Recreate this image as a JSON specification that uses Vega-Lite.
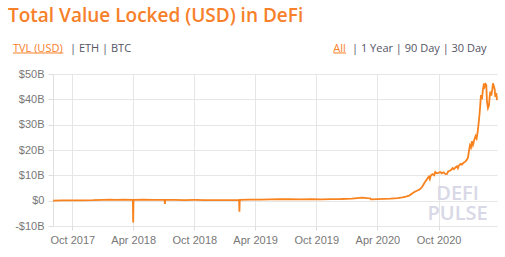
{
  "$schema": "https://vega.github.io/schema/vega-lite/v6.json",
  "width": 444,
  "height": 152,
  "autosize": "none",
  "padding": {"left": 53, "top": 74, "right": 8, "bottom": 31},
  "background": "white",
  "title": {
    "text": "Total Value Locked (USD) in DeFi",
    "anchor": "start",
    "frame": "group",
    "dx": -45,
    "offset": 17,
    "font": "Open Sans",
    "fontSize": 19,
    "fontWeight": 600,
    "color": "#f7802a"
  },
  "config": {
    "view": {"stroke": null},
    "axis": {
      "labelFont": "Liberation Sans",
      "labelFontSize": 11,
      "labelColor": "#777777",
      "gridColor": "#e6e6e6",
      "tickColor": "#dddddd",
      "domainColor": "#e0e0e0",
      "labelOverlap": false,
      "labelSeparation": 0,
      "title": null
    }
  },
  "layer": [
    {
      "data": {
        "values": [
          {"date": "2017-08-04", "tvl": 0.05},
          {"date": "2017-09-01", "tvl": 0.08},
          {"date": "2017-10-01", "tvl": 0.1},
          {"date": "2017-11-01", "tvl": 0.15},
          {"date": "2017-12-01", "tvl": 0.2},
          {"date": "2018-01-01", "tvl": 0.35},
          {"date": "2018-01-20", "tvl": 0.45},
          {"date": "2018-02-10", "tvl": 0.35},
          {"date": "2018-03-01", "tvl": 0.38},
          {"date": "2018-03-31", "tvl": 0.3},
          {"date": "2018-04-01", "tvl": -8.6},
          {"date": "2018-04-02", "tvl": 0.3},
          {"date": "2018-05-01", "tvl": 0.4},
          {"date": "2018-06-01", "tvl": 0.35},
          {"date": "2018-07-04", "tvl": 0.3},
          {"date": "2018-07-05", "tvl": -1.3},
          {"date": "2018-07-06", "tvl": 0.3},
          {"date": "2018-08-01", "tvl": 0.3},
          {"date": "2018-09-01", "tvl": 0.25},
          {"date": "2018-10-01", "tvl": 0.28},
          {"date": "2018-11-01", "tvl": 0.25},
          {"date": "2018-12-01", "tvl": 0.2},
          {"date": "2019-01-01", "tvl": 0.25},
          {"date": "2019-02-12", "tvl": 0.3},
          {"date": "2019-02-13", "tvl": -4.4},
          {"date": "2019-02-14", "tvl": 0.3},
          {"date": "2019-03-15", "tvl": 0.4},
          {"date": "2019-04-15", "tvl": 0.45},
          {"date": "2019-05-15", "tvl": 0.5},
          {"date": "2019-06-15", "tvl": 0.6},
          {"date": "2019-07-15", "tvl": 0.55},
          {"date": "2019-08-15", "tvl": 0.5},
          {"date": "2019-09-15", "tvl": 0.55},
          {"date": "2019-10-15", "tvl": 0.5},
          {"date": "2019-11-15", "tvl": 0.6},
          {"date": "2019-12-15", "tvl": 0.65},
          {"date": "2020-01-15", "tvl": 0.8},
          {"date": "2020-02-01", "tvl": 1.0},
          {"date": "2020-02-15", "tvl": 1.2},
          {"date": "2020-03-01", "tvl": 1.0},
          {"date": "2020-03-11", "tvl": 0.9},
          {"date": "2020-03-13", "tvl": 0.5},
          {"date": "2020-04-01", "tvl": 0.6},
          {"date": "2020-04-20", "tvl": 0.7},
          {"date": "2020-05-10", "tvl": 0.8},
          {"date": "2020-06-01", "tvl": 1.0},
          {"date": "2020-06-15", "tvl": 1.3},
          {"date": "2020-06-25", "tvl": 1.6},
          {"date": "2020-07-05", "tvl": 2.0},
          {"date": "2020-07-15", "tvl": 2.9},
          {"date": "2020-07-22", "tvl": 3.5},
          {"date": "2020-07-30", "tvl": 4.0},
          {"date": "2020-08-07", "tvl": 4.6},
          {"date": "2020-08-13", "tvl": 5.5},
          {"date": "2020-08-18", "tvl": 6.6},
          {"date": "2020-08-22", "tvl": 7.5},
          {"date": "2020-08-26", "tvl": 8.2},
          {"date": "2020-08-30", "tvl": 9.0},
          {"date": "2020-09-02", "tvl": 9.5},
          {"date": "2020-09-05", "tvl": 8.5},
          {"date": "2020-09-08", "tvl": 9.9},
          {"date": "2020-09-13", "tvl": 10.5},
          {"date": "2020-09-18", "tvl": 10.0},
          {"date": "2020-09-21", "tvl": 11.3},
          {"date": "2020-09-26", "tvl": 10.8},
          {"date": "2020-10-01", "tvl": 11.0},
          {"date": "2020-10-06", "tvl": 11.3},
          {"date": "2020-10-11", "tvl": 10.8},
          {"date": "2020-10-16", "tvl": 11.2},
          {"date": "2020-10-21", "tvl": 10.6},
          {"date": "2020-10-26", "tvl": 10.5},
          {"date": "2020-10-30", "tvl": 11.6},
          {"date": "2020-11-04", "tvl": 11.8},
          {"date": "2020-11-08", "tvl": 12.2},
          {"date": "2020-11-12", "tvl": 12.9},
          {"date": "2020-11-16", "tvl": 12.4},
          {"date": "2020-11-20", "tvl": 13.0},
          {"date": "2020-11-25", "tvl": 13.6},
          {"date": "2020-11-28", "tvl": 12.8},
          {"date": "2020-12-01", "tvl": 13.8},
          {"date": "2020-12-06", "tvl": 14.5},
          {"date": "2020-12-10", "tvl": 14.2},
          {"date": "2020-12-15", "tvl": 15.0},
          {"date": "2020-12-20", "tvl": 15.4},
          {"date": "2020-12-24", "tvl": 16.0},
          {"date": "2020-12-28", "tvl": 17.0},
          {"date": "2020-12-31", "tvl": 19.5},
          {"date": "2021-01-03", "tvl": 21.8},
          {"date": "2021-01-06", "tvl": 21.0},
          {"date": "2021-01-09", "tvl": 23.5},
          {"date": "2021-01-12", "tvl": 22.0},
          {"date": "2021-01-16", "tvl": 24.0},
          {"date": "2021-01-20", "tvl": 25.5},
          {"date": "2021-01-23", "tvl": 24.6},
          {"date": "2021-01-26", "tvl": 27.0},
          {"date": "2021-01-29", "tvl": 30.5},
          {"date": "2021-02-01", "tvl": 34.5},
          {"date": "2021-02-03", "tvl": 38.0},
          {"date": "2021-02-05", "tvl": 41.7},
          {"date": "2021-02-08", "tvl": 40.0},
          {"date": "2021-02-11", "tvl": 44.0},
          {"date": "2021-02-14", "tvl": 46.3},
          {"date": "2021-02-16", "tvl": 45.0},
          {"date": "2021-02-19", "tvl": 46.0},
          {"date": "2021-02-21", "tvl": 45.6},
          {"date": "2021-02-23", "tvl": 39.0},
          {"date": "2021-02-26", "tvl": 36.5},
          {"date": "2021-03-01", "tvl": 37.5},
          {"date": "2021-03-03", "tvl": 41.0},
          {"date": "2021-03-05", "tvl": 43.0},
          {"date": "2021-03-08", "tvl": 41.5},
          {"date": "2021-03-11", "tvl": 44.0},
          {"date": "2021-03-13", "tvl": 46.3},
          {"date": "2021-03-15", "tvl": 45.5},
          {"date": "2021-03-18", "tvl": 44.0},
          {"date": "2021-03-20", "tvl": 41.0},
          {"date": "2021-03-23", "tvl": 42.5},
          {"date": "2021-03-25", "tvl": 39.7}
        ]
      },
      "mark": {"type": "line", "color": "#f7821e", "strokeWidth": 1.8},
      "encoding": {
        "x": {
          "field": "date",
          "type": "temporal",
          "scale": {"domain": [{"year": 2017, "month": 8, "date": 4}, {"year": 2021, "month": 3, "date": 25}]},
          "axis": {
            "format": "%b %Y",
            "values": [
              {"year": 2017, "month": 10, "date": 1},
              {"year": 2018, "month": 4, "date": 1},
              {"year": 2018, "month": 10, "date": 1},
              {"year": 2019, "month": 4, "date": 1},
              {"year": 2019, "month": 10, "date": 1},
              {"year": 2020, "month": 4, "date": 1},
              {"year": 2020, "month": 10, "date": 1}
            ],
            "domain": false,
            "tickSize": 4,
            "labelPadding": 4,
            "labelOverlap": false
          }
        },
        "y": {
          "field": "tvl",
          "type": "quantitative",
          "scale": {"domain": [-10, 50], "nice": false},
          "axis": {
            "values": [-10, 0, 10, 20, 30, 40, 50],
            "tickCount": 7,
            "labelExpr": "datum.value < 0 ? '-$' + (-datum.value) + 'B' : (datum.value == 0 ? '$0' : '$' + datum.value + 'B')",
            "domain": true,
            "tickSize": 5,
            "labelPadding": 4,
            "labelOverlap": false,
            "labelSeparation": 0
          }
        }
      }
    },
    {
      "data": {"values": [{}]},
      "mark": {"type": "text", "text": ["DEFI", "PULSE"], "font": "Open Sans", "fontSize": 20, "fontWeight": 600, "color": "#d8d8e6", "lineHeight": 20, "align": "center", "baseline": "middle"},
      "encoding": {
        "x": {"datum": {"year": 2020, "month": 11, "date": 27}, "type": "temporal"},
        "y": {"datum": 2.6, "type": "quantitative"}
      }
    },
    {
      "data": {"values": [{}]},
      "mark": {"type": "text", "text": "TVL (USD)", "font": "Open Sans", "fontSize": 11, "color": "#f7802a", "align": "left", "baseline": "middle"},
      "encoding": {
        "x": {"datum": {"year": 2017, "month": 4, "date": 6}, "type": "temporal"},
        "y": {"datum": 59.9, "type": "quantitative"}
      }
    },
    {
      "data": {"values": [{}]},
      "mark": {"type": "rule", "color": "#f7802a", "strokeWidth": 1},
      "encoding": {
        "x": {"datum": {"year": 2017, "month": 4, "date": 6}, "type": "temporal"},
        "x2": {"datum": {"year": 2017, "month": 9, "date": 4}},
        "y": {"datum": 58.3, "type": "quantitative"}
      }
    },
    {
      "data": {"values": [{}]},
      "mark": {"type": "text", "text": "|  ETH  |  BTC", "font": "Open Sans", "fontSize": 11, "color": "#555566", "align": "left", "baseline": "middle"},
      "encoding": {
        "x": {"datum": {"year": 2017, "month": 9, "date": 24}, "type": "temporal"},
        "y": {"datum": 59.9, "type": "quantitative"}
      }
    },
    {
      "data": {"values": [{}]},
      "mark": {"type": "text", "text": "All", "font": "Open Sans", "fontSize": 11, "color": "#f7802a", "align": "left", "baseline": "middle"},
      "encoding": {
        "x": {"datum": {"year": 2019, "month": 11, "date": 21}, "type": "temporal"},
        "y": {"datum": 59.9, "type": "quantitative"}
      }
    },
    {
      "data": {"values": [{}]},
      "mark": {"type": "rule", "color": "#f7802a", "strokeWidth": 1},
      "encoding": {
        "x": {"datum": {"year": 2019, "month": 11, "date": 21}, "type": "temporal"},
        "x2": {"datum": {"year": 2019, "month": 12, "date": 29}},
        "y": {"datum": 58.3, "type": "quantitative"}
      }
    },
    {
      "data": {"values": [{}]},
      "mark": {"type": "text", "text": "|  1 Year  |  90 Day  |  30 Day", "font": "Open Sans", "fontSize": 11, "color": "#555566", "align": "left", "baseline": "middle"},
      "encoding": {
        "x": {"datum": {"year": 2020, "month": 1, "date": 16}, "type": "temporal"},
        "y": {"datum": 59.9, "type": "quantitative"}
      }
    }
  ]
}
